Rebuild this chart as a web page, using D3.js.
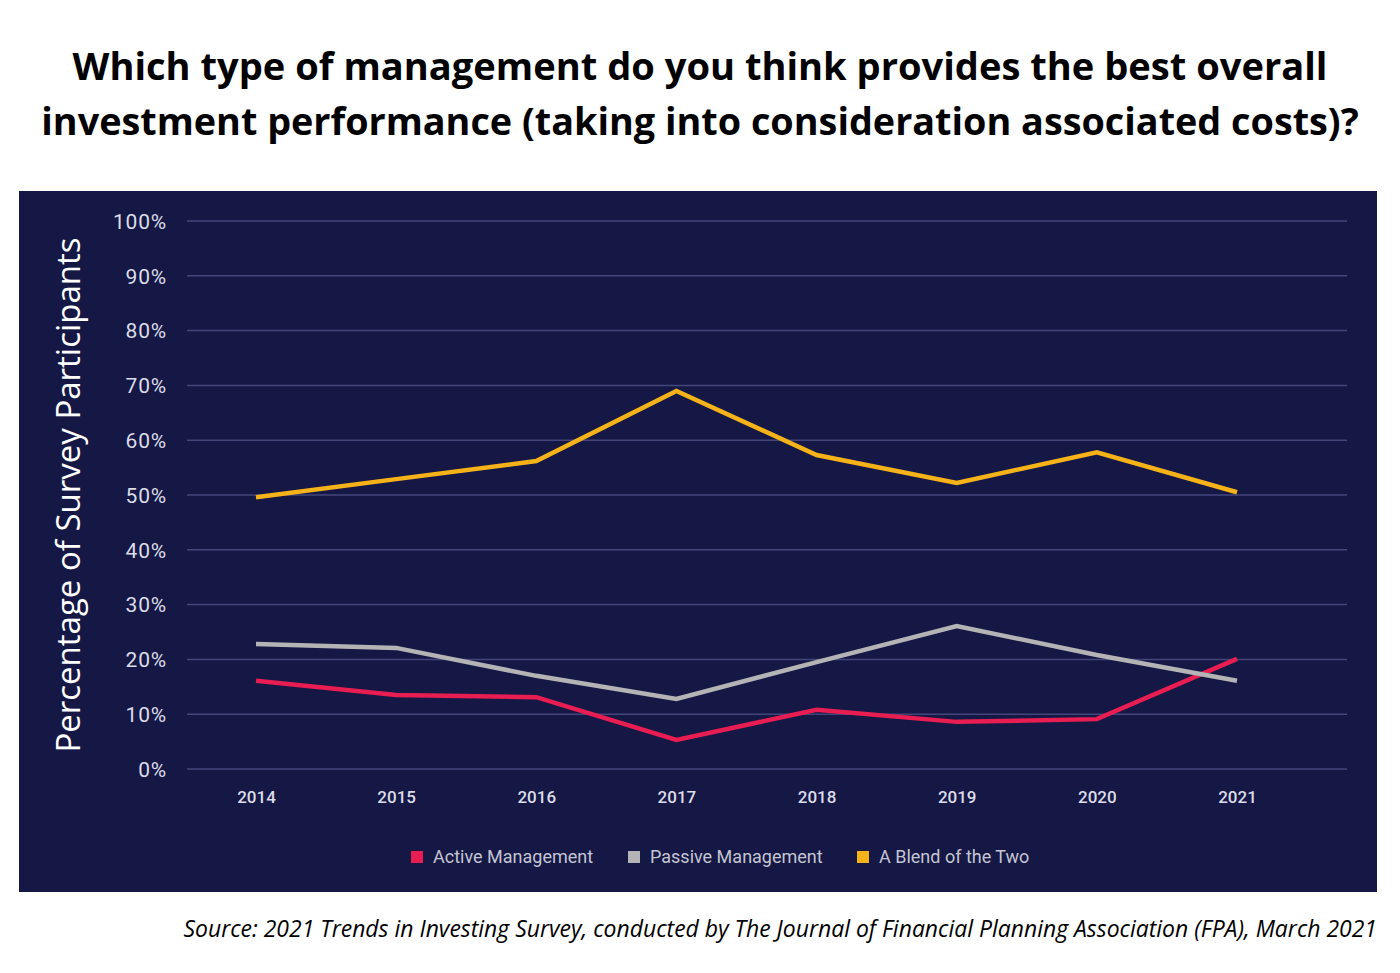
<!DOCTYPE html>
<html>
<head>
<meta charset="utf-8">
<script src="https://cdn.jsdelivr.net/npm/d3@7"></script>
<style>
  body { margin: 0; background: #fff; }
  svg { display: block; }
</style>
</head>
<body>
<svg id="chart" width="1400" height="973"></svg>
<script>
// data
var years = ["2014", "2015", "2016", "2017", "2018", "2019", "2020", "2021"];
var active = [16.1, 13.5, 13.1, 5.3, 10.8, 8.6, 9.1, 20.1];
var passive = [22.8, 22.1, 17.0, 12.8, 19.5, 26.1, 20.8, 16.1];
var blend = [49.6, 52.9, 56.2, 69.0, 57.3, 52.2, 57.8, 50.5];
var seriesNames = ["Active Management", "Passive Management", "A Blend of the Two"];
var yTicks = [0, 10, 20, 30, 40, 50, 60, 70, 80, 90, 100];

var colors = ["#e81d51", "#b4b4b6", "#f6b219"];
var series = [active, passive, blend];

var svg = d3.select("#chart");

// fit a text element to a given width by changing its font size
function fitWidth(sel, w) {
  var fs = parseFloat(sel.style("font-size"));
  var len = sel.node().getComputedTextLength();
  sel.style("font-size", (fs * w / len) + "px");
}

// title
var t1 = svg.append("text")
  .attr("x", 700).attr("y", 80)
  .attr("text-anchor", "middle")
  .style("font-family", "'Open Sans', sans-serif")
  .style("font-weight", "bold")
  .style("font-size", "40px")
  .style("fill", "#000")
  .text("Which type of management do you think provides the best overall");
fitWidth(t1, 1255);
var t2 = svg.append("text")
  .attr("x", 700).attr("y", 135)
  .attr("text-anchor", "middle")
  .style("font-family", "'Open Sans', sans-serif")
  .style("font-weight", "bold")
  .style("font-size", "40px")
  .style("fill", "#000")
  .text("investment performance (taking into consideration associated costs)?");
fitWidth(t2, 1318);

// dark panel
svg.append("rect")
  .attr("x", 19).attr("y", 191)
  .attr("width", 1358).attr("height", 701)
  .attr("fill", "#151745");

var x = d3.scalePoint()
  .domain(years)
  .range([256, 1237]);

var y = d3.scaleLinear()
  .domain([0, 100])
  .range([769, 221]);

// gridlines
svg.append("g").selectAll("line")
  .data(yTicks)
  .enter().append("line")
  .attr("x1", 187).attr("x2", 1347)
  .attr("y1", function(d) { return y(d); })
  .attr("y2", function(d) { return y(d); })
  .attr("stroke", "#44467a")
  .attr("stroke-width", 1.5);

// y axis labels
var yAxis = d3.axisLeft(y).tickValues(yTicks).tickSize(0).tickPadding(0)
  .tickFormat(function(d) { return d + "%"; });
var gy = svg.append("g").attr("transform", "translate(167,0)").call(yAxis);
gy.select(".domain").remove();
gy.selectAll("text")
  .attr("dy", "0.35em")
  .style("font-family", "Roboto, sans-serif")
  .style("font-size", "21px")
  .style("letter-spacing", "0.8px")
  .style("fill", "#dcdde8");

// x axis labels
var xAxis = d3.axisBottom(x).tickSize(0).tickPadding(0);
var gx = svg.append("g").attr("transform", "translate(0,791)").call(xAxis);
gx.select(".domain").remove();
gx.selectAll("text")
  .attr("dy", "0.71em")
  .style("font-family", "Roboto, sans-serif")
  .style("font-weight", "500")
  .style("font-size", "17px")
  .style("fill", "#dcdde8");

// y axis title
svg.append("text")
  .attr("transform", "translate(80,495) rotate(-90)")
  .attr("text-anchor", "middle")
  .style("font-family", "'Open Sans', sans-serif")
  .style("font-size", "33px")
  .style("fill", "#ffffff")
  .text("Percentage of Survey Participants");

// lines
var line = d3.line()
  .x(function(d, i) { return x(years[i]); })
  .y(function(d) { return y(d); });

svg.append("g").selectAll("path")
  .data(series)
  .enter().append("path")
  .attr("d", line)
  .attr("fill", "none")
  .attr("stroke", function(d, i) { return colors[i]; })
  .attr("stroke-width", 4.5);

// legend
var legX = [411, 628, 857];
var leg = svg.append("g").selectAll("g")
  .data(seriesNames)
  .enter().append("g")
  .attr("transform", function(d, i) { return "translate(" + legX[i] + ",851)"; });
leg.append("rect")
  .attr("width", 12).attr("height", 12)
  .attr("fill", function(d, i) { return colors[i]; });
leg.append("text")
  .attr("x", 22).attr("y", 12)
  .style("font-family", "Roboto, sans-serif")
  .style("font-size", "18px")
  .style("fill", "#c4c5d2")
  .text(function(d) { return d; });

// source
var src = svg.append("text")
  .attr("x", 1377).attr("y", 937)
  .attr("text-anchor", "end")
  .style("font-family", "'Open Sans', sans-serif")
  .style("font-style", "italic")
  .style("font-size", "20px")
  .style("fill", "#000")
  .text("Source: 2021 Trends in Investing Survey, conducted by The Journal of Financial Planning Association (FPA), March 2021");
fitWidth(src, 1194);
</script>
</body>
</html>
